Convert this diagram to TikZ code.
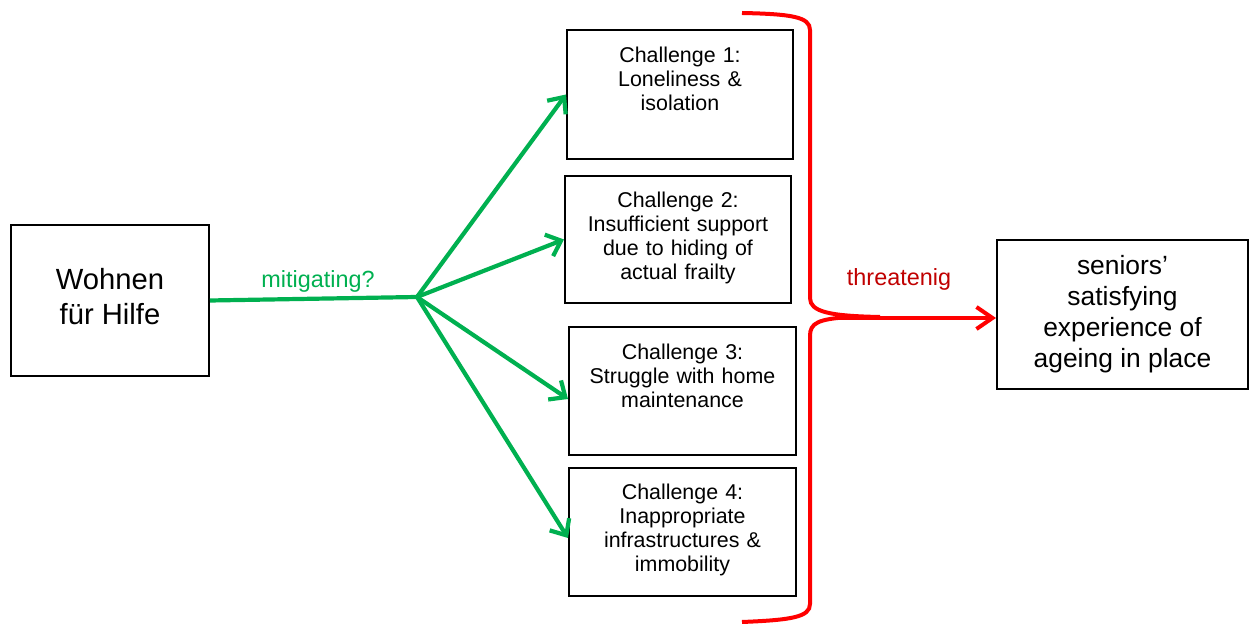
\documentclass[tikz,border=0pt]{standalone}
\usepackage{fontspec}
\setmainfont{Liberation Sans}
\usetikzlibrary{arrows.meta}
\definecolor{grn}{HTML}{00B050}
\definecolor{brred}{HTML}{FF0000}
\definecolor{dred}{HTML}{C00000}
\begin{document}
\begin{tikzpicture}[x=0.5pt,y=-0.5pt,
  box/.style={draw,line width=1pt,inner sep=0pt},
  chtext/.style={anchor=north,inner sep=0pt,align=center,text width=105pt,font=\fontsize{10.7}{12}\selectfont},
  gline/.style={draw=grn,line width=2.1pt},
  garrow/.style={gline,-{Straight Barb[length=6.5pt,width=11.5pt,line width=2.1pt]}},
  rline/.style={draw=brred,line width=2pt},
  rarrow/.style={rline,-{Straight Barb[length=8pt,width=11pt,line width=2pt]}}]
\useasboundingbox (0,0) rectangle (1250,624);
% main boxes
\node[box,minimum width=99pt,minimum height=75.5pt] (w) at (110,300.5) {};
\node[align=center,inner sep=0pt,font=\fontsize{14.6}{17.5}\selectfont] (wt) at ([yshift=2pt]w.center) {Wohnen\\für Hilfe};
\node[box,minimum width=125.5pt,minimum height=74.5pt,align=center,font=\fontsize{13.2}{15.5}\selectfont] (s) at (1122.5,314.5) {seniors’\\satisfying\\experience of\\ageing in place};
% challenge boxes
\node[box,minimum width=113pt,minimum height=64.5pt] (c1) at (680,94.5) {};
\node[box,minimum width=113pt,minimum height=63.5pt] (c2) at (678,239.5) {};
\node[box,minimum width=113.5pt,minimum height=64pt] (c3) at (682.5,391) {};
\node[box,minimum width=113.5pt,minimum height=64pt] (c4) at (682.5,532) {};
\node[chtext] (c1t) at ([yshift=-9pt]c1.north) {Challenge 1:\\Loneliness \&\\isolation};
\node[chtext] (c2t) at ([yshift=-8.5pt]c2.north) {Challenge 2:\\Insufficient support\\due to hiding of\\actual frailty};
\node[chtext] (c3t) at ([yshift=-9pt]c3.north) {Challenge 3:\\Struggle with home\\maintenance};
\node[chtext] (c4t) at ([yshift=-8.5pt]c4.north) {Challenge 4:\\Inappropriate\\infrastructures \&\\immobility};
% green connectors
\coordinate (hub) at (417,297);
\draw[gline] (w.east) -- (hub);
\draw[garrow] (hub) -- (c1.west);
\draw[garrow] (hub) -- (c2.west);
\draw[garrow] (hub) -- ([yshift=-4pt]c3.west);
\draw[garrow] (hub) -- ([yshift=-3pt]c4.west);
\node[text=grn,anchor=base,font=\fontsize{11.7}{14}\selectfont] (mit) at (318,288) {mitigating?};
% red brace
\draw[rline] (742,13) .. controls (792,14) and (810,17) .. (810,30) -- (810,298) .. controls (810,312) and (830,316) .. (880,317);
\draw[rline] (850,317) .. controls (818,319) and (810,323) .. (810,336) -- (810,604) .. controls (810,617) and (792,620) .. (742,622);
\coordinate (bt) at (835,318);
\draw[rarrow] (bt) -- (bt -| s.west);
\node[text=dred,anchor=base,font=\fontsize{11.7}{14}\selectfont] (thr) at (899,286) {threatenig};
\end{tikzpicture}
\end{document}
